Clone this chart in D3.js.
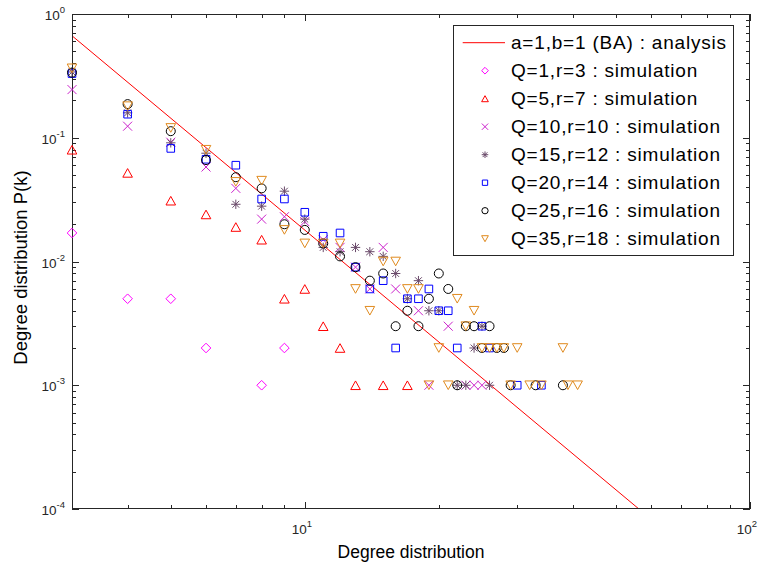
<!DOCTYPE html>
<html><head><meta charset="utf-8">
<script src="https://cdn.jsdelivr.net/npm/d3@7"></script>
<style>
html,body{margin:0;padding:0;background:#fff;}
svg{display:block;font-family:"Liberation Sans",Arial,Helvetica,sans-serif;}
</style>
</head><body>
<svg id="chart" width="759" height="568"></svg>
<script>
// ---------- data ----------
const seriesNames = [
  "a=1,b=1 (BA) : analysis",
  "Q=1,r=3 : simulation",
  "Q=5,r=7 : simulation",
  "Q=10,r=10 : simulation",
  "Q=15,r=12 : simulation",
  "Q=20,r=14 : simulation",
  "Q=25,r=16 : simulation",
  "Q=35,r=18 : simulation"
];
// analysis line (straight line in log-log), endpoints
const kBA = [3, 56.3];
const pBA = [0.667, 0.0001];

const kQ1 = [3, 4, 5, 6, 8, 9];
const pQ1 = [0.017, 0.005, 0.005, 0.002, 0.001, 0.002];

const kQ5 = [3, 4, 5, 6, 7, 8, 9, 10, 11, 12, 13, 15, 17];
const pQ5 = [0.08, 0.052, 0.031, 0.024, 0.019, 0.015, 0.005, 0.006, 0.003, 0.002, 0.001, 0.001, 0.001];

const kQ10 = [3, 4, 5, 6, 7, 8, 9, 10, 11, 12, 13, 14, 15, 16, 18, 19, 21, 23, 24, 25];
const pQ10 = [0.245, 0.124, 0.092, 0.058, 0.039, 0.022, 0.023, 0.021, 0.015, 0.013, 0.009, 0.006, 0.013, 0.006, 0.004, 0.001, 0.003, 0.001, 0.001, 0.001];

const kQ15 = [3, 4, 5, 6, 7, 8, 9, 10, 11, 12, 13, 14, 15, 16, 17, 18, 19, 20, 22, 23, 24, 25, 26];
const pQ15 = [0.34, 0.159, 0.091, 0.075, 0.029, 0.028, 0.037, 0.022, 0.013, 0.012, 0.013, 0.012, 0.011, 0.008, 0.005, 0.007, 0.004, 0.004, 0.001, 0.001, 0.002, 0.003, 0.001];

const kQ20 = [3, 4, 5, 6, 7, 8, 9, 10, 11, 12, 13, 14, 15, 16, 17, 18, 19, 20, 21, 22, 25, 26, 30, 34];
const pQ20 = [0.33, 0.155, 0.082, 0.067, 0.060, 0.032, 0.032, 0.025, 0.016, 0.017, 0.009, 0.006, 0.007, 0.002, 0.005, 0.005, 0.006, 0.004, 0.004, 0.002, 0.003, 0.002, 0.001, 0.001];

const kQ25 = [3, 4, 5, 6, 7, 8, 9, 10, 11, 12, 13, 14, 15, 16, 17, 18, 19, 20, 21, 22, 23, 24, 25, 26, 27, 28, 29, 33, 38];
const pQ25 = [0.336, 0.187, 0.113, 0.066, 0.048, 0.039, 0.020, 0.018, 0.014, 0.011, 0.009, 0.007, 0.008, 0.003, 0.004, 0.003, 0.005, 0.008, 0.006, 0.001, 0.003, 0.003, 0.002, 0.003, 0.002, 0.002, 0.001, 0.001, 0.001];

const kQ35 = [3, 4, 5, 6, 7, 8, 9, 10, 11, 12, 13, 14, 15, 16, 17, 18, 19, 20, 21, 22, 23, 24, 25, 26, 27, 28, 29, 30, 32, 34, 38, 39, 41];
const pQ35 = [0.364, 0.18, 0.12, 0.08, 0.044, 0.045, 0.018, 0.014, 0.014, 0.014, 0.006, 0.004, 0.010, 0.010, 0.006, 0.006, 0.001, 0.002, 0.001, 0.005, 0.003, 0.004, 0.002, 0.002, 0.002, 0.002, 0.001, 0.002, 0.001, 0.001, 0.002, 0.001, 0.001];

const xTickValues = [10, 100];
const xTickExp = ["1", "2"];
const yTickValues = [1e-4, 1e-3, 1e-2, 1e-1, 1];
const yTickExp = ["-4", "-3", "-2", "-1", "0"];
const xTitle = "Degree distribution";
const yTitle = "Degree distribution P(k)";

// ---------- layout ----------
const svg = d3.select("#chart");
const L = 72, R = 750, T = 14, B = 509;
const x = d3.scaleLog().domain([3, 100]).range([L, R]);
const y = d3.scaleLog().domain([1e-4, 1]).range([B, T]);
const axisColor = "#262626";

svg.append("defs").append("clipPath").attr("id", "clip")
  .append("rect").attr("x", L).attr("y", T).attr("width", R - L).attr("height", B - T);

// marker shape paths
function shapePath(type, s) {
  const p = d3.path();
  if (type === "diamond") {
    const r = 4.8 * s;
    p.moveTo(0, -r); p.lineTo(r, 0); p.lineTo(0, r); p.lineTo(-r, 0); p.closePath();
  } else if (type === "up") {
    const w = 4.8 * s, h = 4.3 * s;
    p.moveTo(0, -h); p.lineTo(w, h); p.lineTo(-w, h); p.closePath();
  } else if (type === "down") {
    const w = 4.8 * s, h = 4.3 * s;
    p.moveTo(0, h); p.lineTo(w, -h); p.lineTo(-w, -h); p.closePath();
  } else if (type === "x") {
    const r = 4.5 * s;
    p.moveTo(-r, -r); p.lineTo(r, r); p.moveTo(-r, r); p.lineTo(r, -r);
  } else if (type === "star") {
    const r = 4.7 * s, d = 3.4 * s;
    p.moveTo(-r, 0); p.lineTo(r, 0); p.moveTo(0, -r); p.lineTo(0, r);
    p.moveTo(-d, -d); p.lineTo(d, d); p.moveTo(-d, d); p.lineTo(d, -d);
  } else if (type === "square") {
    const r = 3.8 * s;
    p.rect(-r, -r, 2 * r, 2 * r);
  } else if (type === "circle") {
    const r = 4.5 * s;
    p.arc(0, 0, r, 0, 2 * Math.PI); p.closePath();
  }
  return p.toString();
}

const series = [
  {k: kQ1, p: pQ1, shape: "diamond", color: "#ff00ff"},
  {k: kQ5, p: pQ5, shape: "up", color: "#ff0000"},
  {k: kQ10, p: pQ10, shape: "x", color: "#cc22cc"},
  {k: kQ15, p: pQ15, shape: "star", color: "#6a4a6a"},
  {k: kQ20, p: pQ20, shape: "square", color: "#0000ff"},
  {k: kQ25, p: pQ25, shape: "circle", color: "#000000"},
  {k: kQ35, p: pQ35, shape: "down", color: "#e08a1e"}
];

// ---------- axes box and ticks ----------
const g = svg.append("g");
g.append("rect").attr("x", L).attr("y", T).attr("width", R - L).attr("height", B - T)
  .attr("fill", "#fff").attr("stroke", "none");

const xMinor = x.ticks().filter(v => !xTickValues.includes(v) && v > 3 && v < 100);
const yMinor = y.ticks().filter(v => !yTickValues.includes(v));
const tickG = g.append("g").attr("stroke", axisColor).attr("stroke-width", 1).attr("shape-rendering", "crispEdges");
xMinor.forEach(v => {
  const px = Math.round(x(v)) + 0.5;
  tickG.append("line").attr("x1", px).attr("x2", px).attr("y1", B).attr("y2", B - 4);
  tickG.append("line").attr("x1", px).attr("x2", px).attr("y1", T).attr("y2", T + 4);
});
xTickValues.forEach(v => {
  const px = Math.round(x(v)) + 0.5;
  tickG.append("line").attr("x1", px).attr("x2", px).attr("y1", B).attr("y2", B - 7);
  tickG.append("line").attr("x1", px).attr("x2", px).attr("y1", T).attr("y2", T + 7);
});
yMinor.forEach(v => {
  const py = Math.round(y(v)) + 0.5;
  tickG.append("line").attr("x1", L).attr("x2", L + 4).attr("y1", py).attr("y2", py);
  tickG.append("line").attr("x1", R).attr("x2", R - 4).attr("y1", py).attr("y2", py);
});
yTickValues.forEach(v => {
  const py = Math.round(y(v)) + 0.5;
  tickG.append("line").attr("x1", L).attr("x2", L + 7).attr("y1", py).attr("y2", py);
  tickG.append("line").attr("x1", R).attr("x2", R - 7).attr("y1", py).attr("y2", py);
});

// ---------- data marks ----------
const lineGen = d3.line().x(d => x(d[0])).y(d => y(d[1]));
g.append("g").attr("clip-path", "url(#clip)").append("path").datum(d3.zip(kBA, pBA)).attr("d", lineGen)
  .attr("fill", "none").attr("stroke", "#ff0000").attr("stroke-width", 1);

// box outline
g.append("rect").attr("x", L + 0.5).attr("y", T + 0.5).attr("width", R - L - 1).attr("height", B - T - 1)
  .attr("fill", "none").attr("stroke", axisColor).attr("stroke-width", 1.2).attr("shape-rendering", "crispEdges");

series.forEach(s => {
  g.append("g").selectAll("path").data(d3.zip(s.k, s.p)).join("path")
    .attr("transform", d => `translate(${x(d[0])},${y(d[1])})`)
    .attr("d", shapePath(s.shape, 1))
    .attr("fill", "none").attr("stroke", s.color).attr("stroke-width", 1);
});

// ---------- tick labels ----------
xTickValues.forEach((v, i) => {
  const t = svg.append("text").attr("x", x(v) - 3).attr("y", B + 25)
    .attr("text-anchor", "middle").attr("font-size", 13.5).attr("fill", axisColor);
  t.append("tspan").text("10");
  t.append("tspan").attr("dy", -7).attr("font-size", 9.5).text(xTickExp[i]);
});
yTickValues.forEach((v, i) => {
  const t = svg.append("text").attr("x", L - 7).attr("y", y(v) + 6)
    .attr("text-anchor", "end").attr("font-size", 13.5).attr("fill", axisColor);
  t.append("tspan").text("10");
  t.append("tspan").attr("dy", -7).attr("font-size", 9.5).text(yTickExp[i]);
});

// ---------- axis titles ----------
svg.append("text").attr("x", (L + R) / 2).attr("y", 558).attr("text-anchor", "middle")
  .attr("font-size", 17.5).attr("fill", "#000").text(xTitle);
svg.append("text").attr("transform", `translate(27,${(T + B) / 2 + 6}) rotate(-90)`)
  .attr("text-anchor", "middle").attr("font-size", 18.5).attr("fill", "#000").text(yTitle);

// ---------- legend ----------
const lgX = 453.5, lgY = 25.5, lgW = 280, lgH = 230, rowH = 28, row0 = 42.7;
const lg = svg.append("g");
lg.append("rect").attr("x", lgX).attr("y", lgY).attr("width", lgW).attr("height", lgH)
  .attr("fill", "#fff").attr("stroke", axisColor).attr("stroke-width", 1);
seriesNames.forEach((name, i) => {
  const cy = row0 + i * rowH;
  if (i === 0) {
    lg.append("line").attr("x1", 462.7).attr("x2", 505).attr("y1", cy).attr("y2", cy)
      .attr("stroke", "#ff0000").attr("stroke-width", 1);
  } else {
    const s = series[i - 1];
    lg.append("path").attr("transform", `translate(485,${cy})`).attr("d", shapePath(s.shape, 0.7))
      .attr("fill", "none").attr("stroke", s.color).attr("stroke-width", 1);
  }
  lg.append("text").attr("x", 511).attr("y", cy + 6.5).attr("font-size", 19)
    .attr("letter-spacing", 0.8).attr("fill", "#000").text(name);
});
</script>
</body></html>
